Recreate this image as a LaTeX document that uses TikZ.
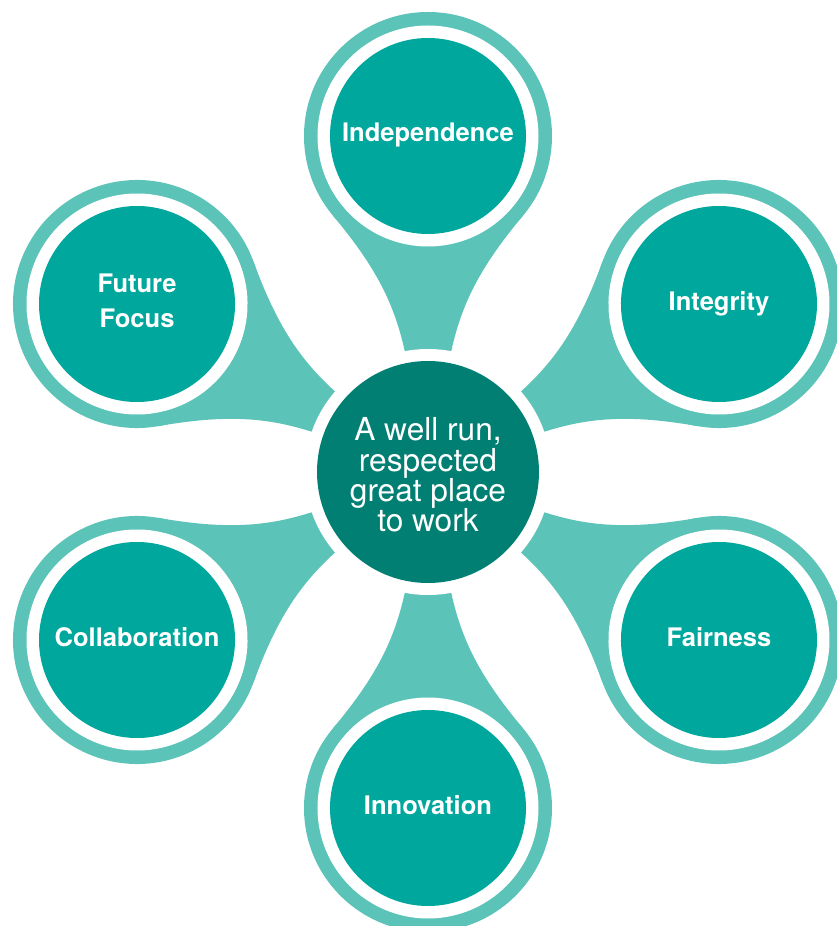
\documentclass[tikz,border=0pt]{standalone}
\usepackage{fontspec}
\setmainfont{TeX Gyre Heros}
\definecolor{ringlight}{HTML}{5BC3B8}
\definecolor{valueteal}{HTML}{00A79D}
\definecolor{hubteal}{HTML}{007F72}
\tikzset{
	valuetext/.style={text=white, align=center, text depth=0pt, yshift=0.1cm, font=\fontsize{21.8}{30.5}\selectfont\bfseries},
	hubtext/.style={text=white, align=center, font=\fontsize{27}{25.8}\selectfont}
}
\def\petal(#1){
	\begin{scope}[rotate=#1]
		\fill[ringlight] (110, -21) -- (122, -23.5) .. controls (165.9, -33.4) and (202.7, -50) .. (256.3, -95) -- (336, 0) -- (256.3, 95) .. controls (202.7, 50) and (165.9, 33.4) .. (122, 23.5) -- (110, 21) -- cycle;
		\fill[ringlight] (336, 0) circle (124);
		\fill[white] (336, 0) circle (110.5);
		\fill[valueteal] (336, 0) circle (98);
	\end{scope}
}

\begin{document}
\begin{tikzpicture}[x=0.03cm, y=0.03cm]
	%%%%% START %%%%%
	
	\useasboundingbox (-428, -454) rectangle (409, 472);
	\clip (-428, -454) rectangle (409, 472);
	
	\petal(90);
	\petal(30);
	\petal(-30);
	\petal(-90);
	\petal(-150);
	\petal(150);
	
	\fill[white] (0, 0) circle (123);
	\fill[hubteal] (0, 0) circle (111);
	
	\node[hubtext] (hub) at (0, -3) {A well run,\\respected\\great place\\to work};
	
	\node[valuetext] (independence) at (90:336) {Independence};
	\node[valuetext] (integrity) at (30:336) {Integrity};
	\node[valuetext] (fairness) at (-30:336) {Fairness};
	\node[valuetext] (innovation) at (-90:336) {Innovation};
	\node[valuetext] (collaboration) at (-150:336) {Collaboration};
	\node[valuetext] (futurefocus) at (150:336) {Future\\Focus};
	
	%%%%% END %%%%%
\end{tikzpicture}
\end{document}
